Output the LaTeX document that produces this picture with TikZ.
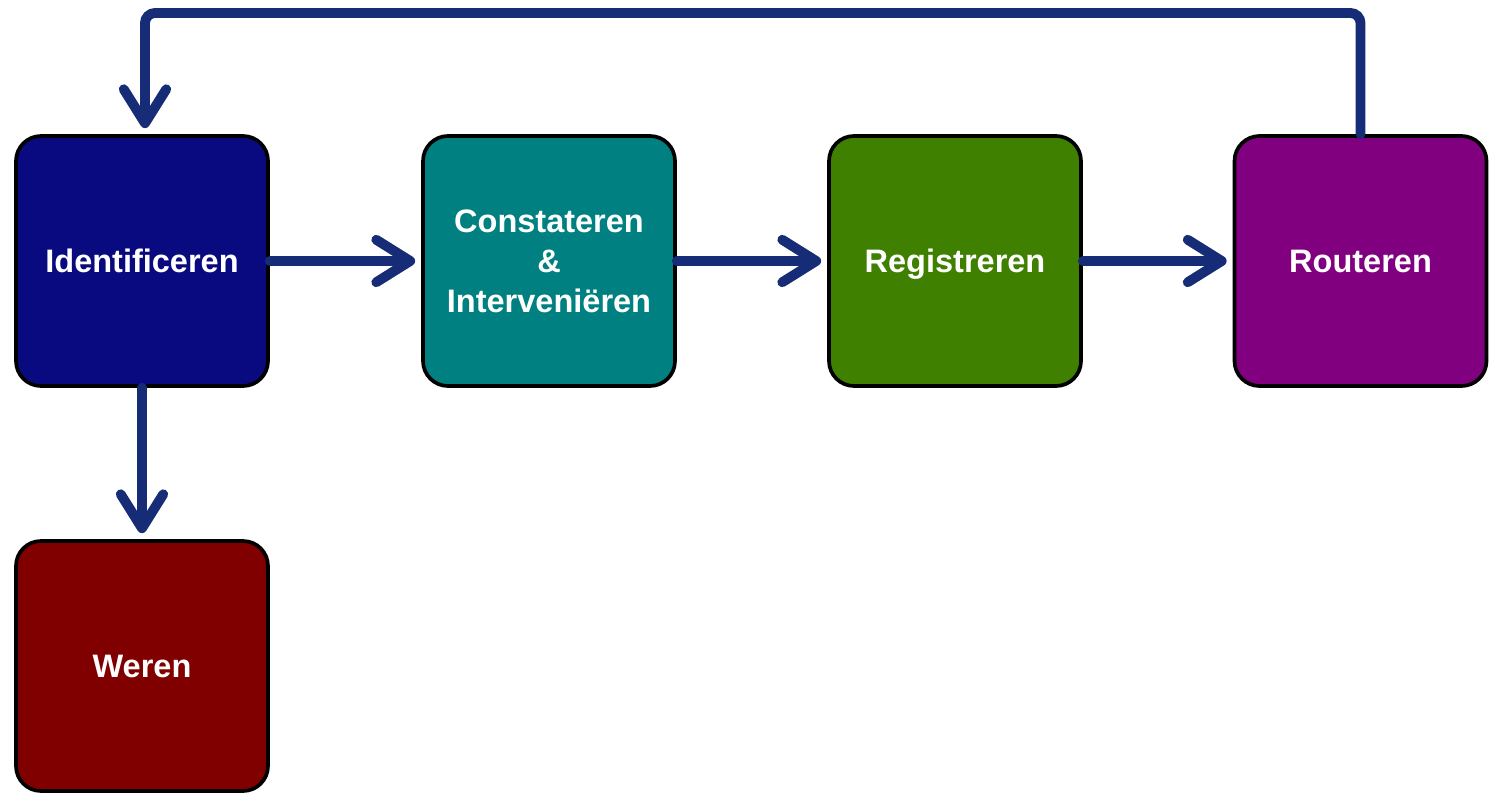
\documentclass[tikz,border=0pt]{standalone}
\usepackage{fontspec}
\setmainfont{Liberation Sans}
\usetikzlibrary{arrows.meta,positioning}
\definecolor{arrowblue}{RGB}{22,44,118}
\definecolor{cIdent}{RGB}{10,10,128}
\definecolor{cConst}{RGB}{0,128,128}
\definecolor{cReg}{RGB}{64,128,0}
\definecolor{cRout}{RGB}{128,0,128}
\definecolor{cWeren}{RGB}{128,0,0}
\tikzset{
  procbox/.style={draw=black, line width=2.1pt, rounded corners=0.5cm,
    minimum width=5.04cm, minimum height=5.0cm, inner sep=0pt,
    text=white, font=\fontsize{18.5}{22.8}\selectfont\bfseries, align=center},
  flow/.style={draw=arrowblue, line width=5.6pt, line cap=round,
    -{Straight Barb[length=0.68cm,width=0.85cm,round]}, shorten >=0.12cm}
}
\begin{document}
\begin{tikzpicture}
\useasboundingbox (0,0) rectangle (29.8,-15.88);
\node[procbox, fill=cIdent] (ident) at (2.84,-5.22) {Identificeren};
\node[procbox, fill=cConst] (const) at (10.98,-5.22) {Constateren\\\&\\Interveniëren};
\node[procbox, fill=cReg] (reg) at (19.1,-5.22) {\raisebox{0pt}[\height][0pt]{Registreren}};
\node[procbox, fill=cRout] (rout) at (27.21,-5.22) {Routeren};
\node[procbox, fill=cWeren] (weren) at (2.84,-13.32) {Weren};
\coordinate (top) at (15,-0.26);
\draw[flow] (ident.east) -- (const.west);
\draw[flow] (const.east) -- (reg.west);
\draw[flow] (reg.east) -- (rout.west);
\draw[flow] (ident.south) -- (weren.north);
\draw[flow, rounded corners=0.2cm] (rout.north) |- (top) -| ([xshift=0.06cm]ident.north);
\end{tikzpicture}
\end{document}
